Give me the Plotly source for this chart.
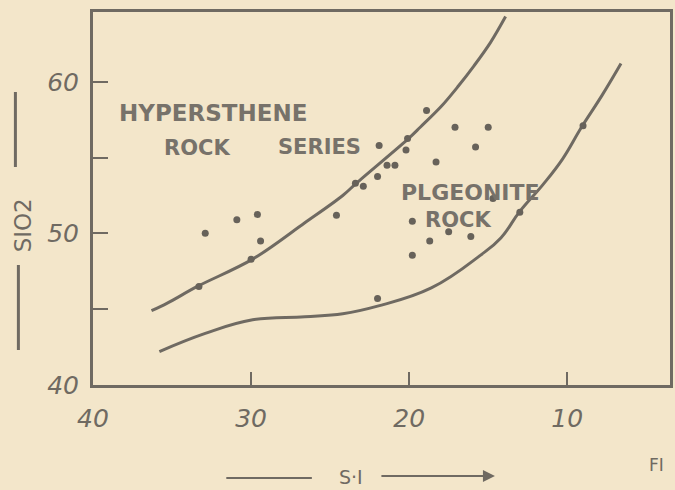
import plotly.graph_objects as go

# Scatter samples: S.I. (solidification index) vs SiO2 (wt %)
si_values = [33.3, 32.9, 30.9, 29.6, 29.4, 30.0, 24.6, 23.4, 22.9, 22.0,
             21.4, 20.9, 21.9, 20.2, 20.1, 18.9, 18.3, 17.1, 15.0, 15.8,
             14.7, 19.8, 18.7, 17.5, 16.1, 19.8, 22.0, 13.0, 9.0]
sio2_values = [46.5, 50.0, 50.9, 51.25, 49.5, 48.3, 51.2, 53.3, 53.1, 53.75,
               54.5, 54.5, 55.8, 55.5, 56.25, 58.1, 54.7, 57.0, 57.0, 55.7,
               52.3, 50.8, 49.5, 50.1, 49.8, 48.55, 45.7, 51.4, 57.1]

# Hypersthene rock series trend
upper_si = [36.3, 35.3, 33.4, 29.9, 26.6, 24.2, 23.35, 20.1, 19.3, 17.95,
            16.9, 15.9, 14.85, 13.9]
upper_sio2 = [44.9, 45.4, 46.5, 48.3, 50.7, 52.5, 53.3, 56.2, 57.0, 58.4,
              59.7, 61.05, 62.6, 64.3]

# Pigeonite rock boundary
lower_si = [35.8, 32.9, 29.9, 26.6, 24.2, 22.0, 18.6, 15.5, 14.2, 13.0,
            11.55, 10.3, 9.1, 7.8, 6.6]
lower_sio2 = [42.2, 43.4, 44.3, 44.5, 44.7, 45.2, 46.4, 48.55, 49.7, 51.45,
              53.2, 54.9, 57.0, 59.1, 61.2]

x_ticks = [40, 30, 20, 10]
x_labels = ["40", "30", "20", "10"]
y_ticks = [40, 45, 50, 55, 60]
y_labels = ["40", "", "50", "", "60"]

ink = "#6f6a62"
paper = "#f3e6ca"

W, H = 675, 490
ML, MR, MT, MB = 93, 2, 12, 105
PW, PH = W - ML - MR, H - MT - MB


def px(xp):
    """Canvas pixel column -> paper x."""
    return (xp - ML) / PW


def py(yp):
    """Canvas pixel row -> paper y."""
    return (H - MB - yp) / PH


fig = go.Figure()
fig.add_trace(go.Scatter(x=upper_si, y=upper_sio2, mode="lines",
                         line=dict(color=ink, width=3, shape="spline", smoothing=1.0),
                         hoverinfo="skip"))
fig.add_trace(go.Scatter(x=lower_si, y=lower_sio2, mode="lines",
                         line=dict(color=ink, width=3, shape="spline", smoothing=1.2),
                         hoverinfo="skip"))
fig.add_trace(go.Scatter(x=si_values, y=sio2_values, mode="markers",
                         marker=dict(color="#67625a", size=7)))

label_font = dict(family="DejaVu Sans", size=22, color="#77726a", weight="bold")
notes = [
    ("HYPERSTHENE", 214, 113, 23),
    ("ROCK", 198, 148, 21),
    ("SERIES", 321, 147, 21),
    ("PLGEONITE", 472, 192, 22),
    ("ROCK", 460, 220, 21),
]
annotations = []
for txt, cx, cy, sz in notes:
    annotations.append(dict(text=txt, x=px(cx), y=py(cy), xref="paper", yref="paper",
                            showarrow=False, xanchor="center", yanchor="middle",
                            font=dict(label_font, size=sz)))

# Axis captions
annotations.append(dict(text="SIO2", x=px(23), y=py(225), xref="paper", yref="paper",
                        showarrow=False, textangle=-90, xanchor="center", yanchor="middle",
                        font=dict(family="DejaVu Sans", size=23, color=ink)))
annotations.append(dict(text="S·I", x=px(352), y=py(477), xref="paper", yref="paper",
                        showarrow=False, xanchor="center", yanchor="middle",
                        font=dict(family="DejaVu Sans", size=19, color=ink)))
annotations.append(dict(text="FI", x=px(659), y=py(465), xref="paper", yref="paper",
                        showarrow=False, xanchor="center", yanchor="middle",
                        font=dict(family="DejaVu Sans", size=17, color=ink)))
annotations.append(dict(x=px(497), y=py(476), ax=-115, ay=0,
                        xref="paper", yref="paper", axref="pixel", ayref="pixel",
                        text="", showarrow=True, arrowhead=2, arrowsize=1.2,
                        arrowwidth=2, arrowcolor=ink))

shapes = [
    dict(type="line", xref="paper", yref="paper", x0=px(227), x1=px(313),
         y0=py(478), y1=py(478), line=dict(color=ink, width=2)),
    dict(type="line", xref="paper", yref="paper", x0=px(15), x1=px(15),
         y0=py(92), y1=py(167), line=dict(color=ink, width=3)),
    dict(type="line", xref="paper", yref="paper", x0=px(18), x1=px(18),
         y0=py(265), y1=py(350), line=dict(color=ink, width=3)),
]

tick_font = dict(family="DejaVu Sans", size=25, color=ink, style="italic")

fig.update_layout(
    width=W, height=H,
    margin=dict(l=ML, r=MR, t=MT, b=MB),
    paper_bgcolor=paper, plot_bgcolor=paper,
    showlegend=False,
    annotations=annotations,
    shapes=shapes,
    xaxis=dict(range=[40, 3.5], tickvals=x_ticks, ticktext=x_labels,
               ticks="inside", ticklen=13, tickwidth=2, tickcolor=ink,
               showline=True, linecolor=ink, linewidth=3, mirror=True,
               showgrid=False, zeroline=False, tickfont=tick_font,
               ticklabelstandoff=9),
    yaxis=dict(range=[40, 64.6], tickvals=y_ticks, ticktext=y_labels,
               ticks="inside", ticklen=15, tickwidth=2, tickcolor=ink,
               showline=True, linecolor=ink, linewidth=3, mirror=True,
               showgrid=False, zeroline=False, tickfont=tick_font,
               ticklabelstandoff=6),
)

fig.write_html("out.html")
